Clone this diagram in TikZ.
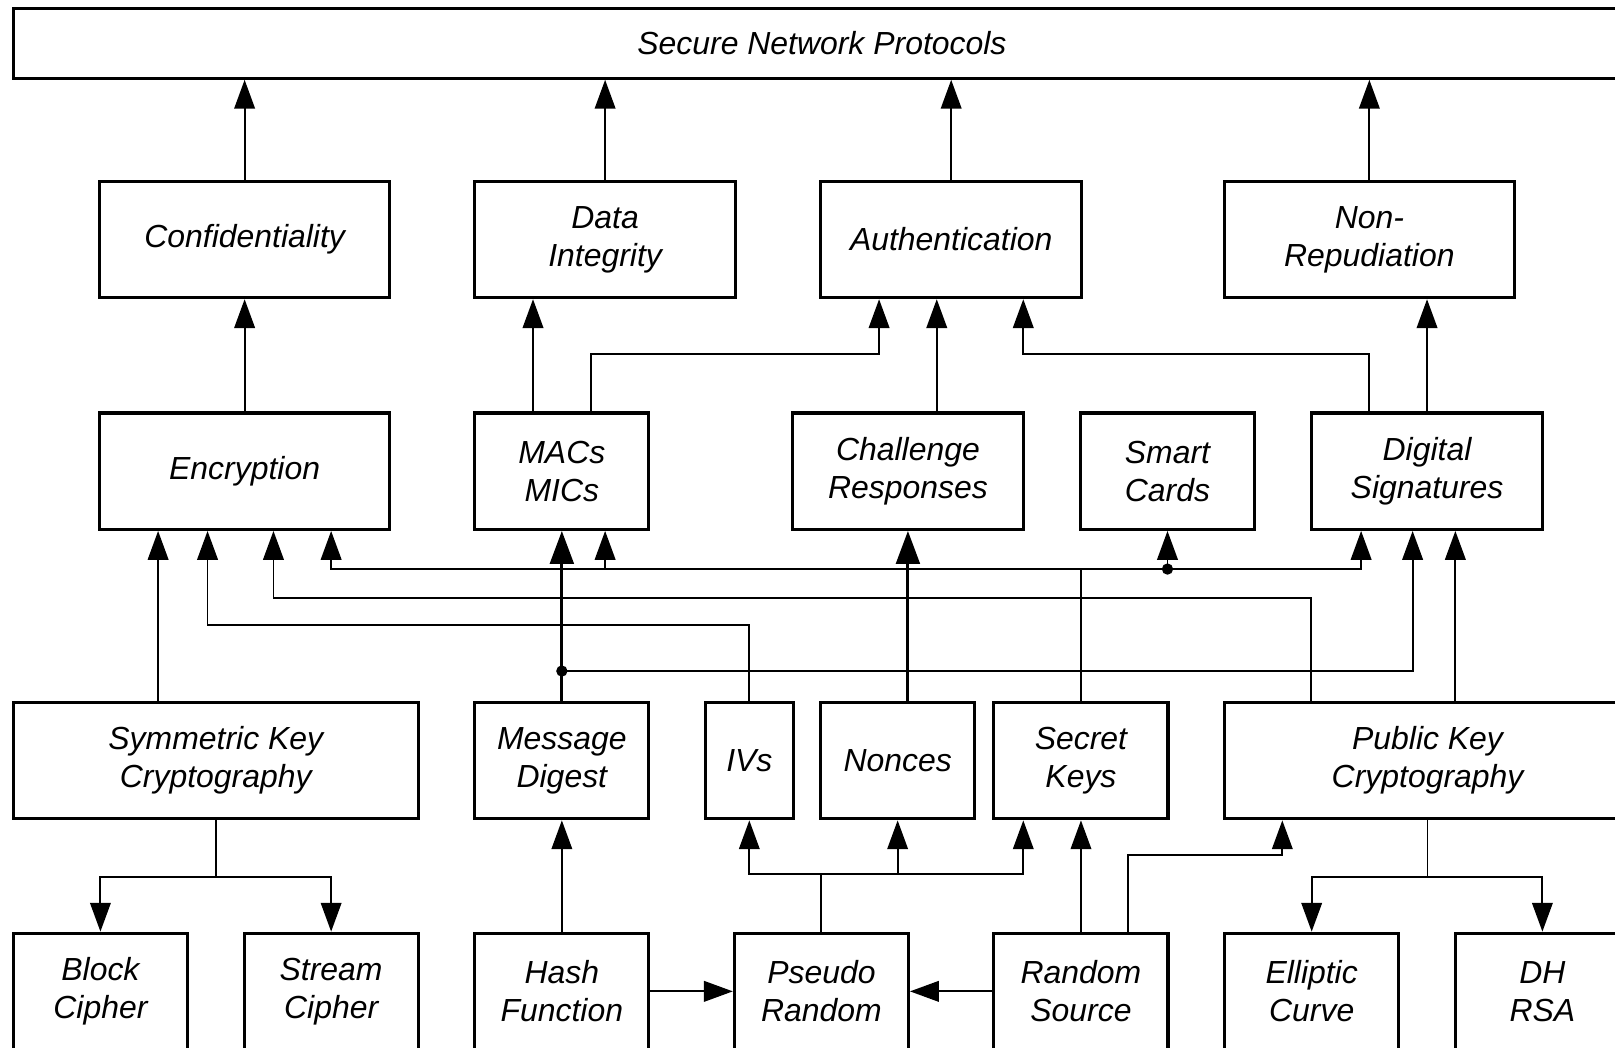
\documentclass[tikz,border=0pt]{standalone}
\usepackage{fontspec}
\setmainfont{Liberation Sans}
\usetikzlibrary{arrows.meta}

\begin{document}
\begin{tikzpicture}[x=1pt, y=-1pt, line width=1.8pt,
    >={Triangle[length=28pt, width=20pt]},
    box/.style={draw, line width=3pt, minimum height=113pt, inner sep=0pt, align=center,
        font=\fontsize{31}{37}\selectfont\itshape},
    bold/.style={line width=3pt, -{Triangle[length=32pt, width=23pt]}}]
    \useasboundingbox (0,0) rectangle (1568,1017);
    \node[box, minimum width=1570pt, minimum height=68pt](snp) at (798,42){Secure Network Protocols};
    \node[box, minimum width=281pt](conf) at (237.5,232.5){Confidentiality};
    \node[box, minimum width=253pt](dint) at (587.5,232.5){Data\\Integrity};
    \node[box, minimum width=253pt](auth) at (923.5,232.5){Authentication};
    \node[box, minimum width=281pt](nonrep) at (1329.5,232.5){Non-\\Repudiation};
    \node[box, minimum width=281pt](enc) at (237.5,457.5){Encryption};
    \node[box, minimum width=169pt](mac) at (545.5,457.5){MACs\\MICs};
    \node[box, minimum width=225pt](chal) at (881.5,457.5){Challenge\\Responses};
    \node[box, minimum width=169pt](smart) at (1133.5,457.5){Smart\\Cards};
    \node[box, minimum width=225pt](dsig) at (1385.5,457.5){Digital\\Signatures};
    \node[box, minimum width=393pt](sym) at (209.5,738.5){Symmetric Key\\Cryptography};
    \node[box, minimum width=169pt](md) at (545.5,738.5){Message\\Digest};
    \node[box, minimum width=85pt](ivs) at (727.5,738.5){IVs};
    \node[box, minimum width=149pt](nonce) at (871.5,738.5){Nonces};
    \node[box, minimum width=169pt](skey) at (1049.5,738.5){Secret\\Keys};
    \node[box, minimum width=394pt](pub) at (1386,738.5){Public Key\\Cryptography};
    \node[box, minimum width=169pt](block) at (97.5,962.5){Block\\Cipher};
    \node[box, minimum width=169pt](stream) at (321.5,962.5){Stream\\Cipher};
    \node[box, minimum width=169pt](hash) at (545.5,962.5){Hash\\Function};
    \node[box, minimum width=169pt](prng) at (797.5,962.5){Pseudo\\Random};
    \node[box, minimum width=169pt](rsrc) at (1049.5,962.5){Random\\Source};
    \node[box, minimum width=169pt](ell) at (1273.5,962.5){Elliptic\\Curve};
    \node[box, minimum width=169pt](dh) at (1497.5,962.5){DH\\RSA};
    \draw[->](conf.north)--(conf.north |- snp.south);
    \draw[->](dint.north)--(dint.north |- snp.south);
    \draw[->](auth.north)--(auth.north |- snp.south);
    \draw[->](nonrep.north)--(nonrep.north |- snp.south);
    \draw[->](enc.north)--(conf.south);
    \draw[->]([xshift=-28pt]mac.north)--([xshift=-28pt]mac.north |- dint.south);
    \draw[->]([xshift=28pt]mac.north)--++(0,-56)-|([xshift=-70pt]auth.south);
    \draw[->]([xshift=28pt]chal.north)--([xshift=28pt]chal.north |- auth.south);
    \draw[->]([xshift=-56pt]dsig.north)--++(0,-56)-|([xshift=70pt]auth.south);
    \draw[->](dsig.north)--(dsig.north |- nonrep.south);
    \draw[->]([xshift=-56pt]sym.north)--([xshift=-56pt]sym.north |- enc.south);
    \draw[->](ivs.north)--++(0,-74)-|([xshift=-36pt]enc.south);
    \draw[->]([xshift=-113pt]pub.north)--++(0,-100)-|([xshift=28pt]enc.south);
    \draw[->](skey.north)--++(0,-128)coordinate(kb)-|([xshift=84pt]enc.south);
    \draw[->](kb)-|([xshift=-64pt]dsig.south);
    \draw[->]([xshift=42pt]mac.south |- kb)--([xshift=42pt]mac.south);
    \draw[->](kb -| smart.south)--(smart.south);
    \fill(kb -| smart.south)circle(5.5pt);
    \draw[bold](md.north)--(mac.south);
    \draw[->](md.north)--++(0,-29)coordinate(mdj)-|([xshift=-14pt]dsig.south);
    \fill(mdj)circle(5.5pt);
    \draw[bold](chal.south |- nonce.north)--(chal.south);
    \draw[->]([xshift=27pt]pub.north)--([xshift=27pt]pub.north |- dsig.south);
    \draw(sym.south)--++(0,55)coordinate(symsplit);
    \draw[->](symsplit)-|(block.north);
    \draw[->](symsplit)-|(stream.north);
    \draw[->](hash.north)--(md.south);
    \draw[->](hash.east)--(prng.west);
    \draw[->](rsrc.west)--(prng.east);
    \draw(prng.north)--++(0,-56)coordinate(pj);
    \draw[->](pj)-|(ivs.south);
    \draw[->](pj)-|(nonce.south);
    \draw[->](pj)-|([xshift=-56pt]skey.south);
    \draw[->](rsrc.north)--(skey.south);
    \draw[->]([xshift=46pt]rsrc.north)--++(0,-74)-|([xshift=-141pt]pub.south);
    \draw(pub.south)--++(0,55)coordinate(pubsplit);
    \draw[->](pubsplit)-|(ell.north);
    \draw[->](pubsplit)-|(dh.north);
\end{tikzpicture}
\end{document}
